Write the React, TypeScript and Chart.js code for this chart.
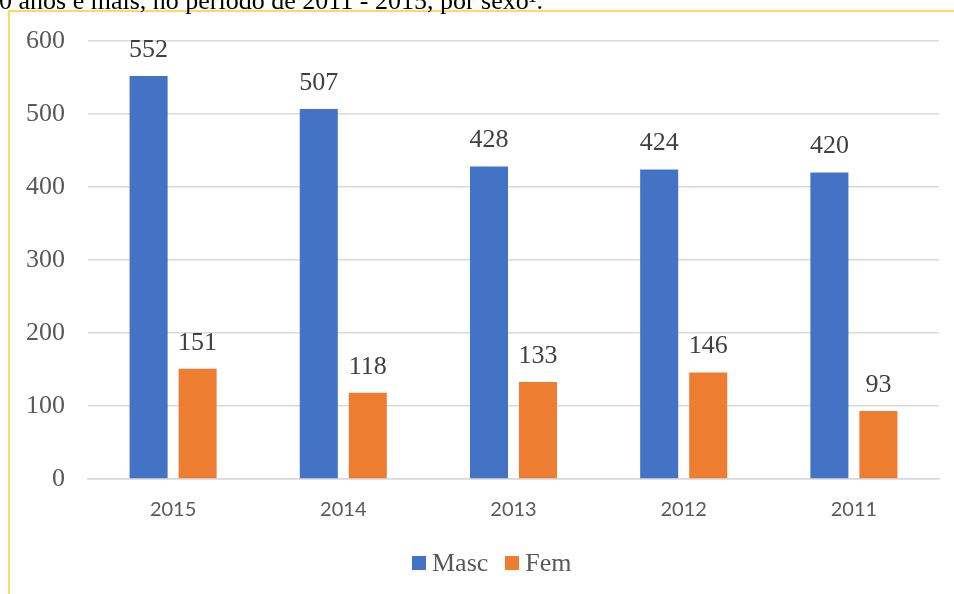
import React, { useEffect, useRef } from "react";
import { Chart, registerables } from "chart.js";
Chart.register(...registerables);

const categories = ["2015", "2014", "2013", "2012", "2011"];
const mascValues = [552, 507, 428, 424, 420];
const femValues = [151, 118, 133, 146, 93];
const seriesNames = ["Masc", "Fem"];
const seriesColors = ["#4472C4", "#ED7D31"];
const yMin = 0;
const yMax = 600;
const yStep = 100;
const titleText = "60 anos e mais, no período de 2011 - 2015, por sexo¹.";

const SERIF = "'Liberation Serif', 'Times New Roman', serif";
const SANS = "Lato, 'Liberation Sans', sans-serif";

const valueLabels = {
  id: "valueLabels",
  afterDatasetsDraw(chart: any) {
    const ctx = chart.ctx;
    ctx.save();
    ctx.font = `26px ${SERIF}`;
    ctx.fillStyle = "#404040";
    ctx.textAlign = "center";
    ctx.textBaseline = "middle";
    chart.data.datasets.forEach((ds: any, i: number) => {
      const meta = chart.getDatasetMeta(i);
      meta.data.forEach((el: any, j: number) => {
        ctx.fillText(String(ds.data[j]), el.x, el.y - 26);
      });
    });
    ctx.restore();
  },
};

export default function App() {
  const ref = useRef<HTMLCanvasElement | null>(null);
  useEffect(() => {
    if (!ref.current) return;
    const chart = new Chart(ref.current, {
      type: "bar",
      data: {
        labels: categories,
        datasets: [
          {
            label: seriesNames[0],
            data: mascValues,
            backgroundColor: seriesColors[0],
            barPercentage: 0.776,
            categoryPercentage: 0.576,
          },
          {
            label: seriesNames[1],
            data: femValues,
            backgroundColor: seriesColors[1],
            barPercentage: 0.776,
            categoryPercentage: 0.576,
          },
        ],
      },
      options: {
        responsive: false,
        animation: false,
        layout: { padding: { top: 41, right: 15, left: 0, bottom: 52 } },
        plugins: {
          legend: { display: false },
          tooltip: { enabled: false },
          title: { display: false },
        },
        scales: {
          x: {
            grid: { display: false },
            border: { color: "#d9d9d9", width: 1.5 },
            ticks: {
              color: "#595959",
              font: { family: SANS, size: 20 },
              padding: 11,
            },
            afterFit: (s: any) => {
              s.height = 63;
            },
          },
          y: {
            min: yMin,
            max: yMax,
            border: { display: false },
            grid: { color: "#d9d9d9", lineWidth: 1.5, drawTicks: false },
            ticks: {
              stepSize: yStep,
              color: "#595959",
              font: { family: SERIF, size: 26 },
              padding: 23,
            },
            afterFit: (s: any) => {
              s.width = 88;
            },
          },
        },
      },
      plugins: [valueLabels],
    });
    return () => chart.destroy();
  }, []);

  return (
    <div
      style={{
        position: "fixed",
        left: 0,
        top: 0,
        width: 954,
        height: 594,
        overflow: "hidden",
        background: "#ffffff",
      }}
    >
      <canvas ref={ref} width={954} height={594} style={{ position: "absolute", left: 0, top: 0 }} />
      <div
        style={{
          position: "absolute",
          left: 8,
          top: 10,
          width: 960,
          height: 600,
          borderLeft: "2px solid #FFD966",
          borderTop: "2px solid #FFD966",
          pointerEvents: "none",
        }}
      />
      <div
        style={{
          position: "absolute",
          left: -14,
          top: -12,
          whiteSpace: "nowrap",
          fontFamily: SERIF,
          fontSize: 26,
          color: "#000000",
          lineHeight: "26px",
        }}
      >
        {titleText}
      </div>
      <div
        style={{
          position: "absolute",
          left: 412,
          top: 548,
          height: 30,
          display: "flex",
          alignItems: "center",
          fontFamily: SERIF,
          fontSize: 26,
          color: "#595959",
          whiteSpace: "nowrap",
        }}
      >
        {seriesNames.map((name, i) => (
          <div key={name} style={{ display: "flex", alignItems: "center", marginRight: i === 0 ? 17 : 0 }}>
            <span
              style={{
                display: "inline-block",
                width: 14,
                height: 14,
                background: seriesColors[i],
                marginRight: 6,
              }}
            />
            <span style={{ lineHeight: "30px" }}>{name}</span>
          </div>
        ))}
      </div>
    </div>
  );
}
